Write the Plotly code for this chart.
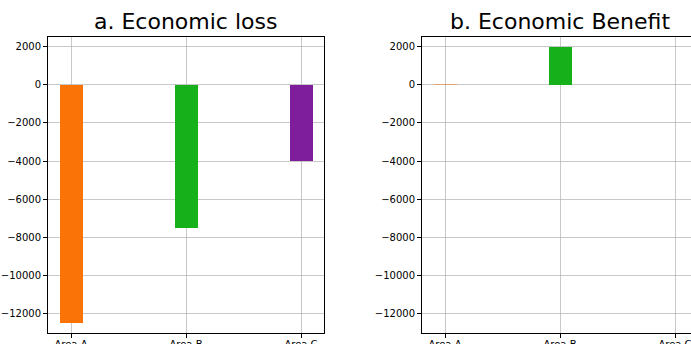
import plotly.graph_objects as go

# Data
areas = ["Area A", "Area B", "Area C"]
loss_values = [-12500, -7500, -4000]
benefit_values = [60, 2000, 0]
loss_colors = ["#f97306", "#15b01a", "#7e1e9c"]
benefit_colors = ["rgba(249,115,6,0.45)", "#15b01a", "#7e1e9c"]
y_ticks = [2000, 0, -2000, -4000, -6000, -8000, -10000, -12000]
y_tick_text = [str(v).replace("-", "\u2212") for v in y_ticks]
titles = ["a. Economic loss", "b. Economic Benefit"]

W, H = 691, 344
x_pos = list(range(len(areas)))

fig = go.Figure()
fig.add_trace(go.Bar(x=x_pos, y=loss_values, width=0.2,
                     marker=dict(color=loss_colors, line=dict(width=0)),
                     xaxis="x", yaxis="y", showlegend=False))
fig.add_trace(go.Bar(x=x_pos, y=benefit_values, width=0.2,
                     marker=dict(color=benefit_colors, line=dict(width=0)),
                     xaxis="x2", yaxis="y2", showlegend=False))

grid = "rgba(170,170,170,0.65)"
tickfont = dict(family="DejaVu Sans", size=10, color="#000000")

def xaxis(domain, rng, mirror, anchor):
    return dict(domain=domain, range=rng, anchor=anchor,
                tickmode="array", tickvals=x_pos, ticktext=areas,
                showgrid=True, gridcolor=grid, gridwidth=1,
                showline=True, linecolor="#000000", linewidth=1, mirror=mirror,
                ticks="outside", ticklen=4, tickcolor="#000000",
                tickfont=tickfont, zeroline=False, layer="above traces",
                automargin=False, ticklabeloverflow="allow",
                ticklabelstandoff=-2)

def yaxis(domain, mirror, anchor):
    return dict(domain=domain, range=[-13000, 2500], anchor=anchor,
                tickmode="array", tickvals=y_ticks, ticktext=y_tick_text,
                showgrid=True, gridcolor=grid, gridwidth=1,
                showline=True, linecolor="#000000", linewidth=1, mirror=mirror,
                ticks="outside", ticklen=4, tickcolor="#000000",
                tickfont=tickfont, zeroline=False, layer="above traces",
                automargin=False, ticklabeloverflow="allow")

yd = [1 - 333 / H, 1 - 37 / H]
left_dom = [48 / W, 324 / W]
right_dom = [422 / W, 1.0]
# right panel runs past the page edge, so its visible range stops early
right_end = (W - 445) / 115 - 0.0

fig.update_layout(
    width=W, height=H,
    margin=dict(l=0, r=0, t=0, b=0, autoexpand=False),
    paper_bgcolor="white", plot_bgcolor="white",
    bargap=0,
    xaxis=xaxis(left_dom, [-0.2, 2.2], True, "y"),
    yaxis=yaxis(yd, True, "x"),
    xaxis2=xaxis(right_dom, [-0.2, right_end], True, "y2"),
    yaxis2=yaxis(yd, False, "x2"),
    font=dict(family="DejaVu Sans"),
)

for title, cx in zip(titles, [186, 560]):
    fig.add_annotation(text=title, x=cx / W, y=1 - 36 / H, xref="paper", yref="paper",
                       xanchor="center", yanchor="bottom", showarrow=False,
                       font=dict(family="DejaVu Sans", size=22, color="#000000"))

fig.write_html("out.html")
